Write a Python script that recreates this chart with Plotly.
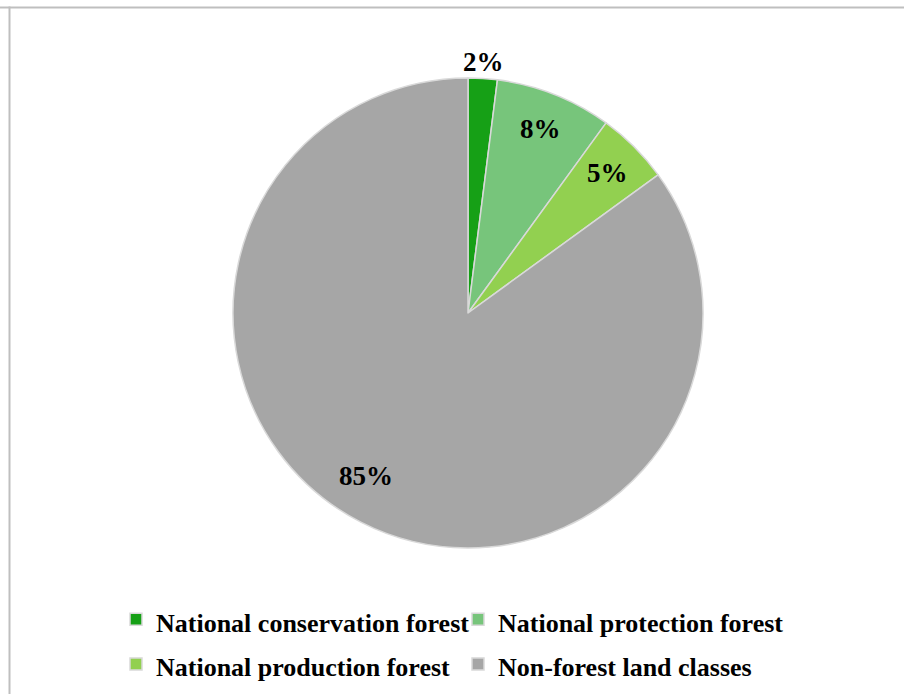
import math
import plotly.graph_objects as go

categories = ["National conservation forest", "National protection forest",
              "National production forest", "Non-forest land classes"]
values = [2, 8, 5, 85]
colors = ["#16A016", "#77C57B", "#92D050", "#A6A6A6"]
label_text = ["2%", "8%", "5%", "85%"]
label_radius = [1.07, 0.84, 0.84, 0.82]
label_shift_deg = [0, 0, 0, 5]

W, H = 904, 694
cx, cy, R = 468, 313, 235
ML, PW = 116, 700          # plot-area left margin and width (controls legend wrapping)
MR = W - ML - PW


def px2x(px):
    return (px - ML) / PW


def px2y(py):
    return 1 - py / H


fig = go.Figure()
fig.add_trace(go.Pie(
    labels=["<span style='font-size:26px'><b>%s</b></span>" % c for c in categories],
    values=values, sort=False, direction="clockwise", rotation=0,
    marker=dict(colors=colors, line=dict(color="#D9D9D9", width=1.5)),
    textinfo="none", hoverinfo="percent",
    domain=dict(x=[px2x(cx - R), px2x(cx + R)], y=[px2y(cy + R), px2y(cy - R)]),
    showlegend=True,
))

total = sum(values)
cum = 0
annotations = []
for v, t, rf, sh in zip(values, label_text, label_radius, label_shift_deg):
    mid = (cum + v / 2) / total * 2 * math.pi + math.radians(sh)
    cum += v
    px = cx + rf * R * math.sin(mid)
    py = cy - rf * R * math.cos(mid)
    annotations.append(dict(x=px2x(px), y=px2y(py), xref="paper", yref="paper",
                            xanchor="center", yanchor="middle",
                            text="<b>%s</b>" % t, showarrow=False,
                            font=dict(family="Liberation Serif", size=27, color="#000")))

fig.update_layout(
    width=W, height=H,
    margin=dict(l=ML, r=MR, t=0, b=0, autoexpand=False),
    paper_bgcolor="white", plot_bgcolor="white",
    annotations=annotations,
    legend=dict(orientation="h", x=0, xanchor="left", y=px2y(592), yanchor="top",
                font=dict(family="Liberation Serif", size=32, color="#000"),
                entrywidth=297, entrywidthmode="pixels",
                traceorder="normal"),
    shapes=[
        dict(type="line", xref="paper", yref="paper", x0=px2x(0), x1=px2x(W),
             y0=px2y(7.5), y1=px2y(7.5), line=dict(color="#BFBFBF", width=2)),
        dict(type="line", xref="paper", yref="paper", x0=px2x(9.5), x1=px2x(9.5),
             y0=px2y(H), y1=px2y(6.5), line=dict(color="#BFBFBF", width=2)),
    ],
)
fig.write_html("out.html", config={"displayModeBar": False},
               post_script="document.body.style.margin='0';")
